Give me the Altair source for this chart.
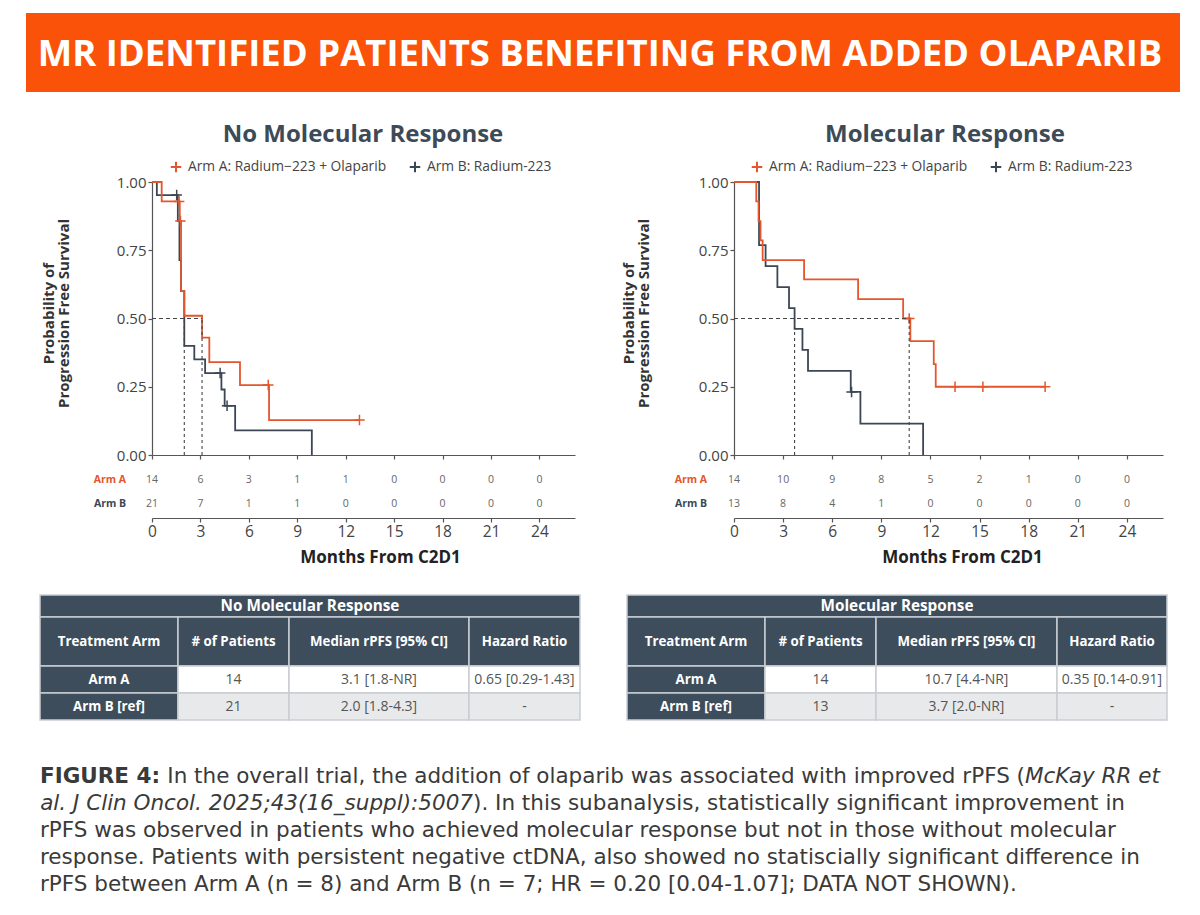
import altair as alt
import pandas as pd

# ---------------------------------------------------------------- values
TITLE = "MR IDENTIFIED PATIENTS BENEFITING FROM ADDED OLAPARIB"
PANEL_TITLES = ["No Molecular Response", "Molecular Response"]
ARM_NAMES = ["Arm A: Radium−223 + Olaparib", "Arm B: Radium-223"]
ARM_SHORT = ["Arm A", "Arm B"]
RISK_TIMES = [0, 3, 6, 9, 12, 15, 18, 21, 24]
Y_TICKS = [0, 0.25, 0.5, 0.75, 1.0]
Y_TITLE = ["Probability of", "Progression Free Survival"]
X_TITLE = "Months From C2D1"

# No molecular response - Kaplan-Meier steps (months, survival probability)
nmr_a_time = [0, 0.60, 1.72, 1.80, 2.00, 3.10, 3.55, 5.45, 7.25, 12.85]
nmr_a_surv = [1.00, 0.929, 0.857, 0.600, 0.510, 0.430, 0.340, 0.256, 0.128, 0.128]
nmr_a_cens_time = [1.68, 1.76, 7.20, 12.85]
nmr_a_cens_surv = [0.929, 0.857, 0.256, 0.128]
nmr_b_time = [0, 0.30, 1.60, 1.70, 1.80, 2.00, 2.62, 3.29, 4.30, 4.50, 5.15, 9.90]
nmr_b_surv = [1.00, 0.952, 0.857, 0.714, 0.600, 0.400, 0.350, 0.300, 0.240, 0.180, 0.090, 0.0]
nmr_b_cens_time = [1.53, 4.22, 4.65]
nmr_b_cens_surv = [0.952, 0.300, 0.180]

# Molecular response - Kaplan-Meier steps
mr_a_time = [0, 1.36, 1.50, 1.62, 1.75, 4.28, 7.58, 10.33, 10.77, 12.20, 12.32, 19.0]
mr_a_surv = [1.00, 0.929, 0.857, 0.786, 0.714, 0.643, 0.571, 0.500, 0.417, 0.333, 0.250, 0.250]
mr_a_cens_time = [10.70, 13.5, 15.2, 19.0]
mr_a_cens_surv = [0.500, 0.250, 0.250, 0.250]
mr_b_time = [0, 1.53, 1.93, 2.65, 3.36, 3.70, 4.18, 4.52, 7.13, 7.72, 11.55]
mr_b_surv = [1.00, 0.769, 0.692, 0.615, 0.538, 0.462, 0.385, 0.308, 0.231, 0.115, 0.0]
mr_b_cens_time = [7.18]
mr_b_cens_surv = [0.231]

# numbers at risk
nmr_risk_a = [14, 6, 3, 1, 1, 0, 0, 0, 0]
nmr_risk_b = [21, 7, 1, 1, 0, 0, 0, 0, 0]
mr_risk_a = [14, 10, 9, 8, 5, 2, 1, 0, 0]
mr_risk_b = [13, 8, 4, 1, 0, 0, 0, 0, 0]

# summary tables
TABLE_HEAD = ["Treatment Arm", "# of Patients", "Median rPFS [95% CI]", "Hazard Ratio"]
TABLE_ARMS = ["Arm A", "Arm B [ref]"]
nmr_patients = [14, 21]
nmr_median = [3.1, 2.0]
nmr_median_ci = ["1.8-NR", "1.8-4.3"]
nmr_hr = ["0.65 [0.29-1.43]", "-"]
mr_patients = [14, 13]
mr_median = [10.7, 3.7]
mr_median_ci = ["4.4-NR", "2.0-NR"]
mr_hr = ["0.35 [0.14-0.91]", "-"]

# caption: one list of (style, text) runs per line
CAPTION = [
    [("bold", "FIGURE 4:"),
     ("regular", "In the overall trial, the addition of olaparib was associated with improved rPFS ("),
     ("italic", "McKay RR et")],
    [("italic", "al. J Clin Oncol. 2025;43(16_suppl):5007"),
     ("regular", "). In this subanalysis, statistically significant improvement in")],
    [("regular", "rPFS was observed in patients who achieved molecular response but not in those without molecular")],
    [("regular", "response. Patients with persistent negative ctDNA, also showed no statiscially significant difference in")],
    [("regular", "rPFS  between Arm A (n = 8) and Arm B (n = 7; HR = 0.20 [0.04-1.07]; DATA NOT SHOWN).")],
]

# ---------------------------------------------------------------- layout / style
W, H = 1200, 915
FONT = "Open Sans"
CAPTION_FONT = "DejaVu Sans"
ORANGE = "#e4562d"
SLATE = "#3b4754"
BANNER = "#fb5209"
DARK = "#3d4d5c"
LIGHT = "#e8e9ea"
AXIS_GREY = "#555555"
PLUS = "M-1,0L1,0M0,-1L0,1"

X_MAX = 26.2
PLOT_TOP, PLOT_BOTTOM = 182, 455
RISK_AXIS_Y = 518
RISK_ROW_Y = [480, 504]
PANEL_X = [(152, 575), (734, 1163)]
PANEL_CENTER = [363, 945]
X_TITLE_CENTER = [380, 962]
Y_TITLE_X = [-104, -106]
RISK_LABEL_RIGHT = [126, 707]
LEGEND_X = [176, 757]
LEGEND_GAP = 239
TABLE_X = [[40, 178, 289, 469, 580], [627, 765, 876, 1057, 1167]]
TABLE_Y = [595, 617, 666, 693, 720]
CAPTION_SIZE = 21.5
CAPTION_Y0, CAPTION_DY = 777, 27
# anchor x and text alignment of every run of the caption
CAPTION_POS = [
    [(40, "left"), (1025, "right"), (1025, "left")],
    [(473, "right"), (473, "left")],
    [(40, "left")],
    [(40, "left")],
    [(40, "left")],
]


def x_scale(p):
    return alt.Scale(domain=[0, X_MAX], range=list(PANEL_X[p]), nice=False, zero=False)


def y_scale():
    return alt.Scale(domain=[0, 1], range=[PLOT_BOTTOM, PLOT_TOP], nice=False, zero=False)


def km_panel(p, a_t, a_s, a_ct, a_cs, b_t, b_s, b_ct, b_cs, medians, risk_a, risk_b):
    x0 = PANEL_X[p][0]
    cs = alt.Scale(domain=ARM_NAMES, range=[ORANGE, SLATE])

    y_axis = alt.Axis(
        orient="left", offset=-x0, values=Y_TICKS, format=".2f", grid=False,
        tickSize=4, tickColor=AXIS_GREY, tickWidth=1.2, domainColor=AXIS_GREY, domainWidth=1.2,
        labelFont=FONT, labelFontSize=15, labelColor="#444444", labelPadding=2,
        title=Y_TITLE, titleFont=FONT, titleFontSize=15, titleFontWeight="bold",
        titleColor="#333333", titleAngle=270, titleX=Y_TITLE_X[p], titleY=313,
        titleAlign="center", titleBaseline="middle", titleLineHeight=15,
    )
    top_axis = alt.Axis(
        orient="bottom", offset=PLOT_BOTTOM - H, values=RISK_TIMES, labels=False, title=None,
        grid=False, tickSize=4, tickColor=AXIS_GREY, tickWidth=1.2,
        domainColor=AXIS_GREY, domainWidth=1.2,
    )
    bottom_axis = alt.Axis(
        orient="bottom", offset=RISK_AXIS_Y - H, values=RISK_TIMES, grid=False, labelFlush=False,
        tickSize=4, tickColor=AXIS_GREY, tickWidth=1.2, domainColor=AXIS_GREY, domainWidth=1.2,
        labelFont=FONT, labelFontSize=15.5, labelColor="#444444", labelPadding=2,
        title=X_TITLE, titleFont=FONT, titleFontSize=17, titleFontWeight="bold", titleColor="#222222",
        titleX=X_TITLE_CENTER[p], titleY=39, titleAlign="center", titleBaseline="middle",
    )

    curve_df = pd.concat([
        pd.DataFrame({"arm": ARM_NAMES[1], "t": b_t, "s": b_s}),
        pd.DataFrame({"arm": ARM_NAMES[0], "t": a_t, "s": a_s}),
    ])
    cens_df = pd.concat([
        pd.DataFrame({"arm": ARM_NAMES[1], "t": b_ct, "s": b_cs}),
        pd.DataFrame({"arm": ARM_NAMES[0], "t": a_ct, "s": a_cs}),
    ])

    curves = alt.Chart(curve_df).mark_line(interpolate="step-after", strokeWidth=1.8).encode(
        x=alt.X("t:Q", scale=x_scale(p), axis=top_axis),
        y=alt.Y("s:Q", scale=y_scale(), axis=y_axis),
        color=alt.Color("arm:N", scale=cs, legend=None),
    )
    censors = alt.Chart(cens_df).mark_point(shape=PLUS, filled=False, size=110, strokeWidth=1.5, opacity=1).encode(
        x=alt.X("t:Q", scale=x_scale(p), axis=None),
        y=alt.Y("s:Q", scale=y_scale(), axis=None),
        color=alt.Color("arm:N", scale=cs, legend=None),
    )

    med_df = pd.DataFrame({"m": medians, "lo": 0.0, "hi": 0.5})
    med_v = alt.Chart(med_df).mark_rule(color="#444444", strokeWidth=1.1, strokeDash=[3, 3]).encode(
        x=alt.X("m:Q", scale=x_scale(p), axis=None),
        y=alt.Y("lo:Q", scale=y_scale(), axis=None),
        y2="hi:Q",
    )
    med_h = alt.Chart(pd.DataFrame({"a": [0.0], "b": [max(medians)], "h": [0.5]})).mark_rule(
        color="#444444", strokeWidth=1.1, strokeDash=[4, 3]
    ).encode(
        x=alt.X("a:Q", scale=x_scale(p), axis=None),
        x2="b:Q",
        y=alt.Y("h:Q", scale=y_scale(), axis=None),
    )

    risk_a_layer = alt.Chart(pd.DataFrame({"t": RISK_TIMES, "n": risk_a})).mark_text(
        font=FONT, fontSize=10.5, color="#666666", baseline="middle"
    ).encode(x=alt.X("t:Q", scale=x_scale(p), axis=bottom_axis), y=alt.value(RISK_ROW_Y[0]), text="n:N")
    risk_b_layer = alt.Chart(pd.DataFrame({"t": RISK_TIMES, "n": risk_b})).mark_text(
        font=FONT, fontSize=10.5, color="#666666", baseline="middle"
    ).encode(x=alt.X("t:Q", scale=x_scale(p), axis=None), y=alt.value(RISK_ROW_Y[1]), text="n:N")

    return alt.layer(curves, censors, med_h, med_v, risk_a_layer, risk_b_layer).resolve_scale(
        x="independent", y="independent"
    )


def table_cells(p, patients, medians, cis, hrs):
    xe, ye = TABLE_X[p], TABLE_Y
    cells = [dict(x0=xe[0], x1=xe[-1], y0=ye[0], y1=ye[1], fill=DARK, label=PANEL_TITLES[p], style="title")]
    for j, h in enumerate(TABLE_HEAD):
        cells.append(dict(x0=xe[j], x1=xe[j + 1], y0=ye[1], y1=ye[2], fill=DARK, label=h, style="head"))
    for r in range(2):
        vals = [str(patients[r]), f"{medians[r]:.1f} [{cis[r]}]", hrs[r]]
        cells.append(dict(x0=xe[0], x1=xe[1], y0=ye[2 + r], y1=ye[3 + r], fill=DARK,
                          label=TABLE_ARMS[r], style="head"))
        for j, v in enumerate(vals):
            cells.append(dict(x0=xe[j + 1], x1=xe[j + 2], y0=ye[2 + r], y1=ye[3 + r],
                              fill="#ffffff" if r == 0 else LIGHT, label=v, style="body"))
    df = pd.DataFrame(cells)
    df["cx"] = (df.x0 + df.x1) / 2
    df["cy"] = (df.y0 + df.y1) / 2
    return df


panels = [
    km_panel(0, nmr_a_time, nmr_a_surv, nmr_a_cens_time, nmr_a_cens_surv,
             nmr_b_time, nmr_b_surv, nmr_b_cens_time, nmr_b_cens_surv,
             nmr_median, nmr_risk_a, nmr_risk_b),
    km_panel(1, mr_a_time, mr_a_surv, mr_a_cens_time, mr_a_cens_surv,
             mr_b_time, mr_b_surv, mr_b_cens_time, mr_b_cens_surv,
             mr_median, mr_risk_a, mr_risk_b),
]

# banner and panel headings
banner = alt.Chart(pd.DataFrame({"title": [TITLE]})).mark_rect(color=BANNER).encode(
    x=alt.value(26), x2=alt.value(1180), y=alt.value(13), y2=alt.value(92)
)
banner_text = alt.Chart(pd.DataFrame({"title": [TITLE]})).mark_text(
    font=FONT, fontSize=36.5, fontWeight="bold", color="white", align="center", baseline="alphabetic"
).encode(x=alt.value(W / 2), y=alt.value(66), text="title:N")

heads = alt.Chart(pd.DataFrame({"t": PANEL_TITLES, "cx": PANEL_CENTER})).mark_text(
    font=FONT, fontSize=24, fontWeight="bold", color="#3d4a57", align="center", baseline="alphabetic"
).encode(x=alt.X("cx:Q", scale=None, axis=None), y=alt.value(142), text="t:N")

# legends
leg_rows = []
for p in range(2):
    for k in range(2):
        px = LEGEND_X[p] + k * LEGEND_GAP
        leg_rows.append(dict(label=ARM_NAMES[k], px=px, tx=px + 12, col=[ORANGE, SLATE][k]))
leg_df = pd.DataFrame(leg_rows)
leg_marks = alt.Chart(leg_df).mark_point(shape=PLUS, filled=False, size=110, strokeWidth=2, opacity=1).encode(
    x=alt.X("px:Q", scale=None, axis=None), y=alt.value(167), color=alt.Color("col:N", scale=None, legend=None)
)
leg_text = alt.Chart(leg_df).mark_text(
    font=FONT, fontSize=13.8, color="#444444", align="left", baseline="middle"
).encode(x=alt.X("tx:Q", scale=None, axis=None), y=alt.value(167), text="label:N")

# number-at-risk row labels
rl_rows = []
for p in range(2):
    for k in range(2):
        rl_rows.append(dict(label=ARM_SHORT[k], px=RISK_LABEL_RIGHT[p], py=RISK_ROW_Y[k], col=[ORANGE, SLATE][k]))
rl_df = pd.DataFrame(rl_rows)
risk_labels = alt.Chart(rl_df).mark_text(
    font=FONT, fontSize=10.5, fontWeight="bold", align="right", baseline="middle"
).encode(
    x=alt.X("px:Q", scale=None, axis=None), y=alt.Y("py:Q", scale=None, axis=None),
    text="label:N", color=alt.Color("col:N", scale=None, legend=None),
)

# summary tables
tab_df = pd.concat([
    table_cells(0, nmr_patients, nmr_median, nmr_median_ci, nmr_hr),
    table_cells(1, mr_patients, mr_median, mr_median_ci, mr_hr),
])
tab_rect = alt.Chart(tab_df).mark_rect(stroke="#c9cdd2", strokeWidth=1.5).encode(
    x=alt.X("x0:Q", scale=None, axis=None), x2="x1:Q",
    y=alt.Y("y0:Q", scale=None, axis=None), y2="y1:Q",
    color=alt.Color("fill:N", scale=None, legend=None),
)


def tab_text(style, size, weight, color):
    return alt.Chart(tab_df).transform_filter(alt.datum.style == style).mark_text(
        font=FONT, fontSize=size, fontWeight=weight, color=color, align="center", baseline="middle"
    ).encode(x=alt.X("cx:Q", scale=None, axis=None), y=alt.Y("cy:Q", scale=None, axis=None), text="label:N")


tab_texts = [
    tab_text("title", 15.3, "bold", "white"),
    tab_text("head", 13.3, "bold", "white"),
    tab_text("body", 14, "normal", "#555555"),
]

# caption
cap_rows = []
for i, line in enumerate(CAPTION):
    for j, (style, txt) in enumerate(line):
        x, align = CAPTION_POS[i][j]
        cap_rows.append(dict(text=txt, style=style, align=align, x=x, y=CAPTION_Y0 + i * CAPTION_DY))
cap_df = pd.DataFrame(cap_rows)

CAP_STYLES = {"bold": ("bold", "normal"), "regular": ("normal", "normal"), "italic": ("normal", "italic")}
caption = []
for style, (weight, font_style) in CAP_STYLES.items():
    for align in ["left", "right"]:
        if not ((cap_df["style"] == style) & (cap_df["align"] == align)).any():
            continue
        caption.append(
            alt.Chart(cap_df).transform_filter(
                (alt.datum.style == style) & (alt.datum.align == align)
            ).mark_text(
                font=CAPTION_FONT, fontSize=CAPTION_SIZE, fontWeight=weight, fontStyle=font_style,
                color="#3a3a3a", align=align, baseline="middle"
            ).encode(x=alt.X("x:Q", scale=None, axis=None), y=alt.Y("y:Q", scale=None, axis=None),
                     text="text:N")
        )

chart = alt.layer(
    banner, banner_text, heads, leg_marks, leg_text, risk_labels,
    panels[0], panels[1], tab_rect, *tab_texts, *caption,
).resolve_scale(
    x="independent", y="independent", color="independent"
).properties(
    width=W, height=H, padding=0, autosize="none", background="white"
).configure_view(stroke=None)

chart.save("out.html", embed_options={"renderer": "svg", "actions": False})
